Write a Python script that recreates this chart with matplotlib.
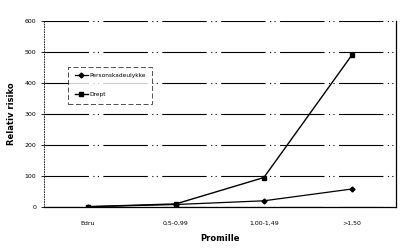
import matplotlib.pyplot as plt

categories = ['Edru', '0,5-0,99', '1,00-1,49', '>1,50']
personskade = [1, 8, 20, 58]
drept = [1, 10, 95, 490]
yticks = [0, 100, 200, 300, 400, 500, 600]

fig = plt.figure(figsize=(4.06, 2.5), dpi=100)
ax = fig.add_axes([0.108, 0.172, 0.867, 0.744])

x = [i + 0.5 for i in range(len(categories))]
ax.plot(x, personskade, color='black', lw=0.9, marker='D', ms=2.5, label='Personskadeulykke')
ax.plot(x, drept, color='black', lw=1.0, marker='s', ms=3.5, label='Drept')

ax.set_xlim(0, 4)
ax.set_ylim(0, 600)
ax.set_yticks(yticks)
ax.set_xticks(x)
ax.set_xticklabels(categories)
ax.tick_params(axis='both', labelsize=4.5, length=2, width=0.6)
ax.tick_params(axis='x', length=0, pad=10)
ax.grid(axis='y', color='black', lw=0.8, ls=(0, (40, 4, 1, 3, 1, 4)))
ax.set_axisbelow(True)
ax.spines['top'].set_visible(False)
ax.spines['left'].set_linestyle((0, (1, 2)))
ax.spines['left'].set_linewidth(0.6)
ax.spines['right'].set_linewidth(0.9)
ax.spines['bottom'].set_linewidth(0.9)

ax.set_ylabel('Relativ risiko', fontsize=6, fontweight='bold', labelpad=6)
ax.set_xlabel('Promille', fontsize=6, fontweight='bold', labelpad=6)

leg = ax.legend(loc='upper left', bbox_to_anchor=(0.07, 0.755), fontsize=4.2,
                frameon=True, fancybox=False, edgecolor='black', handlelength=2.2,
                borderpad=1.1, labelspacing=2.4, handletextpad=0.2,
                borderaxespad=0)
leg.get_frame().set_linewidth(0.6)
leg.get_frame().set_linestyle((0, (6, 3)))

fig.savefig('out.png', dpi=100)
